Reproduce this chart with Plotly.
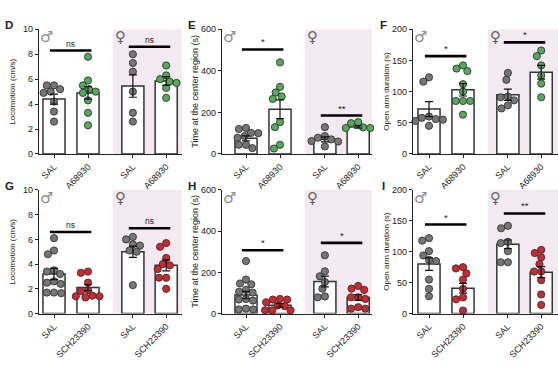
import plotly.graph_objects as go

W, H = 558, 376
U = 34.0                      # pixels per category step
XPOS = [0, 1, 2.32, 3.3]      # male SAL, male drug, female SAL, female drug

# ---------------- data ----------------
sal_label = "SAL"
drug1_label = "A68930"
drug2_label = "SCH23390"

# D: locomotion (cm/s), A68930
d_m_sal = [5.5, 5.5, 5.2, 4.9, 5.0, 4.2, 3.4, 2.6]
d_m_drug = [7.8, 5.9, 5.5, 5.2, 5.0, 4.9, 4.3, 3.3, 2.3]
d_f_sal = [8.0, 7.3, 6.6, 5.0, 3.3, 2.6]
d_f_drug = [7.1, 6.3, 6.0, 5.8, 5.7, 5.3, 4.5]
d_mean = [4.4, 4.9, 5.45, 5.85]
d_sem = [0.4, 0.5, 0.9, 0.35]
d_sig = ["ns", "ns"]
d_sig_y = [8.3, 8.6]

# E: time at center (s), A68930
e_m_sal = [125, 120, 101, 100, 86, 78, 44, 44, 28]
e_m_drug = [441, 323, 296, 277, 265, 153, 129, 44, 26]
e_f_sal = [129, 86, 78, 70, 62, 60, 36]
e_f_drug = [153, 148, 128, 125, 125]
e_mean = [75, 215, 70, 130]
e_sem = [12, 45, 12, 6]
e_sig = ["*", "**"]
e_sig_y = [503, 185]

# F: open arm duration (s), A68930
f_m_sal = [123, 116, 60, 58, 56, 55, 53, 45]
f_m_drug = [142, 137, 133, 112, 100, 85, 85, 85, 63]
f_f_sal = [130, 119, 92, 91, 86, 78, 73]
f_f_drug = [166, 157, 142, 126, 113, 91]
f_mean = [72, 103, 95, 131]
f_sem = [12, 10, 9, 11]
f_sig = ["*", "*"]
f_sig_y = [157, 179]

# G: locomotion (cm/s), SCH23390
g_m_sal = [6.1, 5.1, 4.8, 3.5, 3.4, 3.2, 2.6, 2.5, 2.4, 1.7, 1.7, 1.65]
g_m_drug = [3.4, 3.3, 2.5, 1.9, 1.8, 1.45, 1.4, 1.4, 1.3]
g_f_sal = [6.2, 6.0, 5.6, 5.5, 5.1, 5.0, 2.3]
g_f_drug = [5.7, 5.4, 4.5, 4.0, 3.9, 3.6, 2.9, 2.9, 2.0]
g_mean = [3.2, 2.1, 5.0, 3.9]
g_sem = [0.45, 0.25, 0.45, 0.45]
g_sig = ["ns", "ns"]
g_sig_y = [6.6, 6.9]

# H: time at center (s), SCH23390
h_m_sal = [255, 165, 146, 142, 115, 106, 102, 71, 68, 63, 24, 20, 20]
h_m_drug = [71, 68, 68, 55, 39, 36, 16, 16, 16]
h_f_sal = [283, 205, 181, 153, 121, 83, 79]
h_f_drug = [134, 121, 115, 79, 79, 71, 31, 24, 24]
h_mean = [90, 40, 156, 78]
h_sem = [18, 8, 26, 14]
h_sig = ["*", "*"]
h_sig_y = [307, 343]

# I: open arm duration (s), SCH23390
i_m_sal = [122, 118, 101, 94, 87, 85, 55, 40, 28]
i_m_drug = [75, 73, 65, 55, 40, 26, 23, 5]
i_f_sal = [142, 138, 116, 114, 101, 83, 83]
i_f_drug = [103, 98, 91, 80, 68, 68, 54, 31, 14]
i_mean = [80, 41, 112, 67]
i_sem = [10, 8, 7, 9]
i_sig = ["*", "**"]
i_sig_y = [144, 162]

GRAY = "#767676"
GREEN = "#55aa5b"
RED = "#d0262d"
SHADE = "#f3e9f1"
INK = "#222222"

panels = [
    dict(letter="D", L=39, P0=54, R=182, top=25, bot=153, ymax=10, dtick=2,
         title="Locomotion (cm/s)", tx=13, tsize=8,
         groups=[d_m_sal, d_m_drug, d_f_sal, d_f_drug], mean=d_mean, sem=d_sem,
         sig=d_sig, sig_y=d_sig_y, drug=drug1_label, color=GREEN),
    dict(letter="E", L=222, P0=246, R=372, top=25, bot=153, ymax=600, dtick=200,
         title="Time at the center region (s)", tx=195, tsize=9,
         groups=[e_m_sal, e_m_drug, e_f_sal, e_f_drug], mean=e_mean, sem=e_sem,
         sig=e_sig, sig_y=e_sig_y, drug=drug1_label, color=GREEN),
    dict(letter="F", L=413, P0=429, R=558, top=25, bot=153, ymax=200, dtick=50,
         title="Open arm duration (s)", tx=387, tsize=8,
         groups=[f_m_sal, f_m_drug, f_f_sal, f_f_drug], mean=f_mean, sem=f_sem,
         sig=f_sig, sig_y=f_sig_y, drug=drug1_label, color=GREEN),
    dict(letter="G", L=39, P0=54, R=182, top=190, bot=317, ymax=10, dtick=2,
         title="Locomotion (cm/s)", tx=13, tsize=8,
         groups=[g_m_sal, g_m_drug, g_f_sal, g_f_drug], mean=g_mean, sem=g_sem,
         sig=g_sig, sig_y=g_sig_y, drug=drug2_label, color=RED),
    dict(letter="H", L=222, P0=246, R=372, top=190, bot=317, ymax=600, dtick=200,
         title="Time at the center region (s)", tx=195, tsize=9,
         groups=[h_m_sal, h_m_drug, h_f_sal, h_f_drug], mean=h_mean, sem=h_sem,
         sig=h_sig, sig_y=h_sig_y, drug=drug2_label, color=RED),
    dict(letter="I", L=413, P0=429, R=558, top=190, bot=317, ymax=200, dtick=50,
         title="Open arm duration (s)", tx=387, tsize=8,
         groups=[i_m_sal, i_m_drug, i_f_sal, i_f_drug], mean=i_mean, sem=i_sem,
         sig=i_sig, sig_y=i_sig_y, drug=drug2_label, color=RED),
]

MARKER_D = 7.2


def swarm(vals, ky, d=MARKER_D):
    """Simple beeswarm: returns x offsets in category units."""
    n = len(vals)
    order = sorted(range(n), key=lambda i: -vals[i])
    placed = []
    out = [0.0] * n
    for i in order:
        y = vals[i] * ky
        cands = [0.0]
        for (px, py) in placed:
            dy = abs(py - y)
            if dy < d:
                dx = (d * d - dy * dy) ** 0.5
                cands += [px + dx, px - dx]
        cands.sort(key=lambda c: (round(abs(c), 4), c))
        x = 0.0
        for c in cands:
            if all((c - px) ** 2 + (y - py) ** 2 >= d * d - 1e-6 for px, py in placed):
                x = c
                break
        placed.append((x, y))
        out[i] = x / U
    return out


def ann_px(x, y, text, **kw):
    return dict(xref="paper", yref="paper", x=x / W, y=1 - y / H, text=text,
                showarrow=False, xanchor="center", yanchor="middle", **kw)


fig = go.Figure()
shapes = []
annotations = []
layout = {}

for k, p in enumerate(panels):
    sfx = "" if k == 0 else str(k + 1)
    xid, yid = "x" + sfx, "y" + sfx
    xr = [(p["L"] - p["P0"]) / U, (p["R"] - p["P0"]) / U]
    ky = (p["bot"] - p["top"]) / p["ymax"]

    layout["xaxis" + sfx] = dict(
        domain=[p["L"] / W, p["R"] / W], range=xr, anchor=yid,
        showline=True, linecolor=INK, linewidth=1.2, mirror=False,
        ticks="outside", ticklen=3, tickwidth=1.1, tickcolor=INK,
        tickvals=XPOS, ticktext=[sal_label, p["drug"], sal_label, p["drug"]],
        tickangle=-45, tickfont=dict(size=9, color=INK),
        showgrid=False, zeroline=False, fixedrange=True)
    layout["yaxis" + sfx] = dict(
        domain=[1 - p["bot"] / H, 1 - p["top"] / H], range=[0, p["ymax"]], anchor=xid,
        showline=True, linecolor=INK, linewidth=1.2,
        ticks="outside", ticklen=3, tickwidth=1.1, tickcolor=INK,
        dtick=p["dtick"], tickfont=dict(size=9, color=INK),
        showgrid=False, zeroline=False, fixedrange=True)

    shapes.append(dict(type="rect", xref=xid, yref=yid, x0=1.73, x1=xr[1],
                       y0=0, y1=p["ymax"], fillcolor=SHADE, line=dict(width=0),
                       layer="below"))

    fig.add_trace(go.Bar(x=XPOS, y=p["mean"], width=0.65, xaxis=xid, yaxis=yid,
                         marker=dict(color="white", line=dict(color="#333333", width=1.5)),
                         showlegend=False, hoverinfo="skip"))

    for gi, vals in enumerate(p["groups"]):
        offs = swarm(vals, ky)
        col = GRAY if gi % 2 == 0 else p["color"]
        fig.add_trace(go.Scatter(
            x=[XPOS[gi] + o for o in offs], y=vals, mode="markers",
            xaxis=xid, yaxis=yid, cliponaxis=False, showlegend=False,
            marker=dict(size=MARKER_D, color=col, line=dict(color="#333333", width=0.9))))

    fig.add_trace(go.Scatter(
        x=XPOS, y=p["mean"], mode="markers", xaxis=xid, yaxis=yid,
        marker=dict(size=1, color="rgba(0,0,0,0)"), showlegend=False,
        error_y=dict(type="data", array=p["sem"], visible=True,
                     color="#111111", thickness=1.2, width=4)))

    for (x0, x1), yv, txt in zip([(-0.12, 1.1), (2.2, 3.42)], p["sig_y"], p["sig"]):
        shapes.append(dict(type="line", xref=xid, yref=yid, x0=x0, x1=x1,
                           y0=yv, y1=yv, line=dict(color="black", width=2.6)))
        annotations.append(dict(xref=xid, yref=yid, x=(x0 + x1) / 2, y=yv,
                                text=txt, showarrow=False, xanchor="center",
                                yanchor="bottom", yshift=0,
                                font=dict(size=8.5 if txt == "ns" else 9.5, color=INK)))

    ysym = p["top"] + 8
    annotations.append(ann_px(p["L"] + 7, ysym, "♂",
                              font=dict(size=15, color="#8a8a8a", family="DejaVu Sans")))
    annotations.append(ann_px(p["P0"] + 1.73 * U + 8, ysym, "♀",
                              font=dict(size=15, color="#666666", family="DejaVu Sans")))

    annotations.append(ann_px(p["tx"], (p["top"] + p["bot"]) / 2, p["title"],
                              textangle=-90, font=dict(size=p["tsize"], color=INK)))
    annotations.append(ann_px(p["L"] - 30, p["top"] - 4, "<b>%s</b>" % p["letter"],
                              font=dict(size=11.5, color=INK)))

fig.update_layout(
    width=W, height=H, margin=dict(l=0, r=0, t=0, b=0),
    paper_bgcolor="white", plot_bgcolor="rgba(0,0,0,0)",
    font=dict(family="Liberation Sans, Arial, sans-serif", color=INK),
    shapes=shapes, annotations=annotations, barmode="overlay",
    **layout)

fig.write_html("out.html", config={"displayModeBar": False},
               post_script="document.body.style.margin='0';document.body.style.overflow='hidden';")
